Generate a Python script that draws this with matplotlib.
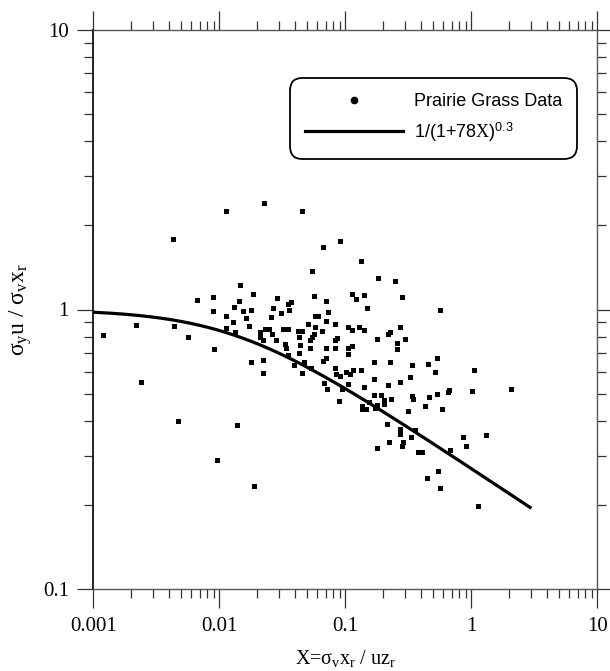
import matplotlib
matplotlib.use('Agg')
import matplotlib.pyplot as plt
from matplotlib.lines import Line2D
from matplotlib.ticker import FixedLocator, FixedFormatter, LogLocator, NullFormatter
import numpy as np

plt.rcParams['font.family'] = ['Liberation Serif', 'DejaVu Serif']
plt.rcParams['mathtext.fontset'] = 'custom'
plt.rcParams['mathtext.rm'] = 'Liberation Serif'
plt.rcParams['mathtext.it'] = 'Liberation Serif:italic'
plt.rcParams['mathtext.bf'] = 'Liberation Serif:bold'
plt.rcParams['mathtext.sf'] = 'Liberation Sans'

# ---- data ----
data_x = [0.0228, 0.0114, 0.0455, 0.0043, 0.067, 0.091, 0.054, 0.0145, 0.0184, 0.0067,
          0.0089, 0.0143, 0.0285, 0.056, 0.070, 0.037, 0.035, 0.0089, 0.0131, 0.0155,
          0.0179, 0.0265, 0.031, 0.0355, 0.073, 0.0112, 0.0163, 0.0257, 0.0575, 0.061,
          0.070, 0.0128, 0.0173, 0.051, 0.083, 0.0112, 0.0022, 0.0044, 0.0012, 0.0056,
          0.0134, 0.021, 0.0232, 0.0247, 0.026, 0.028, 0.032, 0.035, 0.042, 0.045,
          0.0575, 0.056, 0.065, 0.021, 0.0223, 0.0334, 0.0336, 0.043, 0.054, 0.052,
          0.044, 0.052, 0.070, 0.0825, 0.086, 0.083, 0.009, 0.035, 0.043, 0.0179,
          0.0222, 0.039, 0.047, 0.067, 0.070, 0.083, 0.0222, 0.045, 0.085, 0.0024,
          0.068, 0.072, 0.089, 0.0047, 0.0137,
          0.133, 0.182, 0.248, 0.112, 0.140, 0.122, 0.284, 0.149, 0.565, 0.106,
          0.112, 0.128, 0.140, 0.272, 0.226, 0.22, 0.18, 0.30, 0.259, 0.105,
          0.113, 0.259, 0.106, 0.168, 0.228, 0.536, 0.451, 0.34, 0.053, 0.101,
          0.109, 0.1145, 0.133, 0.091, 0.515, 1.06, 0.328, 0.168, 0.106, 0.141,
          0.218, 0.272, 0.094, 0.67, 0.65, 0.533, 1.02, 2.05, 0.168, 0.192,
          0.34, 0.346, 0.232, 0.461, 0.204, 0.203, 0.153, 0.178, 0.172, 0.136,
          0.136, 0.146, 0.432, 0.584, 0.312, 0.214, 0.272, 0.272, 0.357,
          0.332, 0.855, 1.31, 0.224, 0.288, 0.28, 0.18, 0.91, 0.677, 0.38,
          0.408, 0.0096, 0.548, 0.445, 0.019, 0.565, 1.12]
data_y = [2.40, 2.25, 2.25, 1.79, 1.67, 1.76, 1.37, 1.22, 1.14, 1.08,
          1.11, 1.07, 1.10, 1.12, 1.07, 1.06, 1.05, 0.99, 1.02, 0.99,
          1.00, 1.01, 0.975, 1.00, 0.98, 0.95, 0.93, 0.94, 0.95, 0.95,
          0.91, 0.90, 0.875, 0.89, 0.885, 0.86, 0.88, 0.87, 0.81, 0.80,
          0.83, 0.83, 0.85, 0.85, 0.82, 0.78, 0.85, 0.85, 0.84, 0.835,
          0.865, 0.82, 0.84, 0.80, 0.775, 0.755, 0.73, 0.80, 0.80, 0.775,
          0.745, 0.73, 0.73, 0.775, 0.79, 0.73, 0.72, 0.69, 0.70, 0.65,
          0.66, 0.635, 0.65, 0.655, 0.67, 0.62, 0.595, 0.595, 0.59, 0.55,
          0.545, 0.52, 0.47, 0.40, 0.385,
          1.49, 1.30, 1.26, 1.14, 1.13, 1.09, 1.11, 1.01, 1.00, 0.865,
          0.845, 0.865, 0.845, 0.865, 0.83, 0.815, 0.785, 0.785, 0.76, 0.73,
          0.74, 0.725, 0.695, 0.65, 0.65, 0.67, 0.64, 0.635, 0.62, 0.60,
          0.59, 0.61, 0.61, 0.58, 0.60, 0.61, 0.575, 0.565, 0.54, 0.53,
          0.535, 0.55, 0.52, 0.515, 0.505, 0.50, 0.51, 0.52, 0.495, 0.495,
          0.49, 0.48, 0.48, 0.485, 0.475, 0.46, 0.465, 0.455, 0.445, 0.45,
          0.44, 0.44, 0.45, 0.44, 0.435, 0.39, 0.375, 0.36, 0.37,
          0.35, 0.35, 0.355, 0.335, 0.337, 0.326, 0.32, 0.325, 0.315, 0.308,
          0.31, 0.29, 0.264, 0.25, 0.234, 0.229, 0.198]

fit_coef = 78
fit_exp = 0.3
fit_x_start = 0.001
fit_x_end = 3.0

x_ticks = [0.001, 0.01, 0.1, 1, 10]
x_tick_labels = ['0.001', '0.01', '0.1', '1', '10']
y_ticks = [0.1, 1, 10]
y_tick_labels = ['0.1', '1', '10']

legend_labels = ['Prairie Grass Data', '1/(1+78$\\mathrm{X}$)$^{\\mathsf{0.3}}$']
x_label = 'X=σ$_\\mathrm{v}$x$_\\mathrm{r}$ / uz$_\\mathrm{r}$'
y_label = 'σ$_\\mathrm{y}$u / σ$_\\mathrm{v}$x$_\\mathrm{r}$'

# ---- figure ----
W, H = 610, 671
fig = plt.figure(figsize=(W / 100, H / 100), dpi=100)
ax = fig.add_axes([93.3 / W, 1 - 589 / H, 504 / W, 559 / H])
ax.set_xscale('log')
ax.set_yscale('log')
ax.set_xlim(0.001, 10)
ax.set_ylim(0.1, 10)

xf = np.logspace(np.log10(fit_x_start), np.log10(fit_x_end), 300)
yf = 1.0 / (1.0 + fit_coef * xf) ** fit_exp
ax.plot(xf, yf, color='k', lw=2.3, solid_capstyle='butt', zorder=3)
ax.plot(data_x, data_y, ls='none', marker='s', ms=3.6, mfc='k', mec='k', mew=0, zorder=4)

ax.xaxis.set_major_locator(FixedLocator(x_ticks))
ax.xaxis.set_major_formatter(FixedFormatter(x_tick_labels))
ax.yaxis.set_major_locator(FixedLocator(y_ticks))
ax.yaxis.set_major_formatter(FixedFormatter(y_tick_labels))
ax.xaxis.set_minor_locator(LogLocator(base=10, subs=np.arange(2, 10)))
ax.yaxis.set_minor_locator(LogLocator(base=10, subs=np.arange(2, 10)))
ax.xaxis.set_minor_formatter(NullFormatter())
ax.yaxis.set_minor_formatter(NullFormatter())

ax.tick_params(which='both', direction='out', top=True, right=True,
               color='#333333', width=0.9)
ax.tick_params(which='major', length=13.5, labelsize=15, pad=7)
ax.tick_params(axis='y', which='major', length=11.5, pad=6)
ax.tick_params(which='minor', length=6.5)

for side in ['top', 'right', 'bottom']:
    ax.spines[side].set_color('#555555')
    ax.spines[side].set_linewidth(1.0)
ax.spines['left'].set_color('black')
ax.spines['left'].set_linewidth(1.2)

ax.set_xlabel(x_label, fontsize=14.5)
ax.xaxis.set_label_coords(0.5, -0.105)
ax.set_ylabel(y_label, fontsize=17)
ax.yaxis.set_label_coords(-0.118, 0.5)

h_pts = Line2D([], [], ls='none', marker='o', ms=4.5, color='k')
h_fit = Line2D([], [], color='k', lw=2.3)
leg = ax.legend([h_pts, h_fit], legend_labels, loc='upper left',
                bbox_to_anchor=(0.390, 0.914), borderaxespad=0,
                prop={'family': 'Liberation Sans', 'size': 13},
                handlelength=5.4, handletextpad=0.6, borderpad=0.85,
                labelspacing=0.55, frameon=True, fancybox=True,
                framealpha=1, edgecolor='black', facecolor='white')
leg.get_frame().set_linewidth(1.3)
leg.get_frame().set_boxstyle('round,pad=0,rounding_size=0.7')

fig.savefig('out.png', dpi=100)
